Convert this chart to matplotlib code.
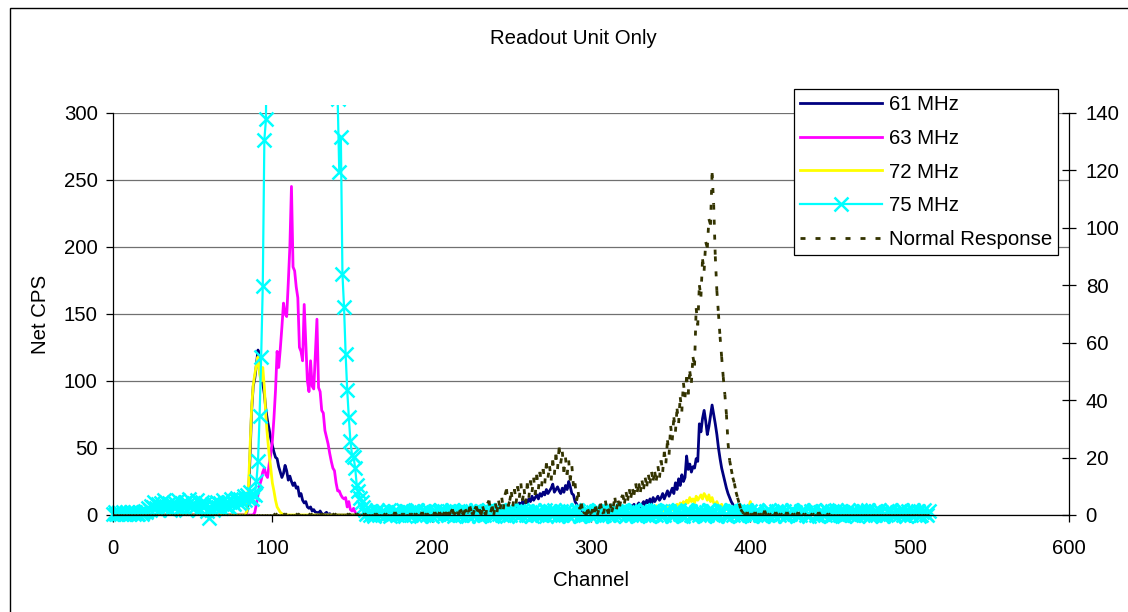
import numpy as np
import matplotlib
matplotlib.use('Agg')
import matplotlib.pyplot as plt
from matplotlib.collections import LineCollection
from matplotlib.lines import Line2D
from matplotlib.patches import Rectangle

plt.rcParams['font.family'] = ['Liberation Sans', 'DejaVu Sans']
FS = 14.7

channels = np.arange(0, 513)

# ---- data (Net CPS, left axis) ----
mhz61_a_start = 84
mhz61_a = [2, 10, 45, 78, 96, 102, 112, 123, 116, 108, 98, 90, 78, 70, 64, 57, 52, 47, 43, 42,
           36, 32, 28, 31, 37, 33, 26, 29, 25, 22, 24, 20, 21, 14, 16, 11, 9, 10, 6, 5,
           6, 3, 4, 2, 2, 1, 3, 1, 0, 1, 2, 0, 1, 0]
mhz61_b_start = 240
mhz61_b = [0, 1, 0, 1, 2, 1, 3, 2, 4, 3,
           5, 4, 6, 8, 5, 9, 7, 10, 8, 11,
           9, 12, 10, 14, 11, 13, 15, 12, 16, 14,
           17, 15, 19, 16, 18, 20, 23, 17, 19, 21,
           18, 16, 20, 17, 22, 19, 25, 21, 16, 15,
           10, 8, 5, 4, 3, 2, 3, 1, 2, 1,
           0, 1, 0, 2, 1, 0, 1, 0, 1, 0,
           1, 0, 2, 1, 3, 2, 1, 3, 2, 4,
           3, 5, 4, 6, 5, 7, 6, 8, 5, 7,
           9, 6, 8, 10, 7, 11, 9, 12, 8, 13,
           10, 12, 14, 11, 13, 16, 12, 15, 18, 14,
           17, 20, 16, 24, 19, 27, 22, 30, 25, 28,
           44, 34, 38, 32, 36, 35, 42, 40, 68, 62,
           72, 78, 70, 60, 66, 74, 82, 75, 68, 60,
           50, 42, 35, 30, 25, 20, 16, 13, 10, 8,
           5, 3, 2, 1, 0]

mhz63_start = 89
mhz63 = [2, 8, 15, 22, 26, 32, 35, 30, 28, 38, 45, 55, 72, 93, 122, 110, 124, 140, 158, 150,
         148, 173, 200, 245, 185, 182, 170, 162, 125, 122, 115, 157, 128, 100, 92, 115, 96, 94, 120, 146,
         95, 92, 78, 76, 63, 58, 53, 46, 40, 35, 33, 24, 18, 18, 15, 13, 12, 13, 6, 10,
         4, 3, 5, 2, 0]

mhz72_a_start = 84
mhz72_a = [3, 20, 50, 80, 97, 105, 112, 118, 105, 100, 110, 95, 72, 58, 45, 35, 24, 18, 11, 6,
           4, 2, 1, 0]
mhz72_b_start = 330
mhz72_b = [1, 2, 1, 3, 2, 4, 3, 5, 4, 6,
           5, 7, 4, 6, 5, 3, 6, 4, 7, 5,
           6, 4, 7, 5, 8, 6, 9, 7, 10, 8,
           11, 9, 13, 10, 12, 9, 14, 11, 13, 15,
           12, 16, 14, 11, 15, 10, 13, 9, 8, 10,
           7, 6, 8, 5, 6, 4, 5, 3, 4, 6,
           3, 5, 2, 4, 6, 3, 5, 2, 4, 6,
           10, 4, 2, 0]

# 75 MHz: baseline left, the big peak (goes off scale), baseline right
mhz75_left = [1, 2, 1, 1, 2, 1, 2, 1, 1, 2, 1, 2, 2, 1, 2, 1, 1, 2, 1, 2,
              3, 2, 5, 4, 7, 6, 10, 5, 8, 4, 9, 6, 11, 7, 5, 9, 4, 8, 10, 6,
              7, 11, 5, 9, 6, 10, 4, 8, 12, 6, 9, 5, 7, 11, 4, 8, 10, 6, 9, 3,
              -2, 5, 8, 4, 7, 10, 6, 9, 5, 11, 8, 7, 10, 6, 12, 9, 8, 11, 13, 9,
              12, 10, 14, 11, 15, 13, 17, 12, 16]
mhz75_peak_start = 89
mhz75_peak = [15, 25, 40, 74, 118, 171, 280, 295,
              480, 760, 1020, 1250, 1430, 1580, 1690, 1780, 1850, 1900,
              1930, 1950, 1940, 1910, 1870, 1820, 1760, 1700, 1640, 1570,
              1500, 1430, 1370, 1310, 1250, 1190, 1130, 1070, 1010, 950,
              890, 830, 770, 710, 660, 610, 560, 520, 480, 440, 410, 380, 350, 330, 310,
              256, 282, 180, 155, 120, 93, 73, 55, 45, 43, 35, 22, 18, 13, 10, 6, 4]
mhz75_right_start = 159
# one digit per channel, digit - 1 = Net CPS
mhz75_right = ("23142035124312502341321504231423510243152034123514"
               "31425032141352043125304214352013425132041532140253"
               "14230521431250342153024135204312540213542031425301"
               "42135024312540231452031425130425134021534201435210"
               "35241023514203152431025341203514230412531402354120"
               "24153204315240132543021453120435120342153041253142"
               "035214130252413502314253021435201342513042153240135214")

# Normal Response (right axis)
normal_head_start = 100
normal_head = [0, 0, 0.5, 0, 0, 0, 0, 0, 0.5, 0, 0, 0, 0, 0, 0, 0, 0.5, 0, 0, 0,
               0, 0, 0, 0, 0.5, 0, 0, 0, 0, 0, 0, 0.5, 0, 0, 0, 0, 0, 0, 0, 0.5,
               0, 0, 0, 0, 0, 0, 0, 0, 0.5, 0,
               0, 0, 0, 0.5, 0, 0, 0, 0, 0.5, 0, 0, 0, 0, 0, 0, 0.5, 0, 0, 0, 0,
               0, 0.5, 0, 0, 0, 0, 0, 1, 0, 0, 0, 0, 0.5, 0, 0, 0, 0, 0.5, 0, 0,
               0.5, 0, 0, 0, 1, 0, 0, 0.5, 0, 0]
normal_main_start = 200
normal_main = [0, 0, 1, 0, 0, 1, 0, 0, 1, 0,
               1, 0, 1, 2, 0, 1, 1, 0, 2, 1,
               0, 2, 1, 1, 3, 1, 0, 2, 3, 1,
               2, 0, 3, 1, 0, 4, 5, 1, 3, 0,
               4, 1, 5, 2, 6, 2, 7, 9, 3, 5,
               8, 3, 9, 4, 10, 6, 11, 5, 9, 4,
               11, 6, 12, 8, 13, 7, 14, 9, 15, 10,
               16, 11, 18, 13, 17, 12, 19, 14, 21, 16,
               23.5, 18, 22, 15, 20, 14, 19, 12, 17, 10,
               11, 5, 8, 2, 4, 0.5, 1, 0, 2, 0.5,
               0.5, 2, 1, 3, 0, 2, 4, 1, 0.5, 5,
               2, 0.5, 4, 1, 3, 6, 2, 5, 3, 6,
               7, 4, 8, 5, 9, 6, 9, 7, 11, 8,
               11, 8, 12, 9, 13, 10, 14, 11, 15, 12,
               15, 12, 17, 13, 19, 15, 22, 18, 26, 21,
               31, 26, 34, 29, 37, 32, 41, 36, 46, 41,
               48, 42, 50, 46, 55, 52, 72, 66, 80, 76,
               89, 85, 95, 93, 103, 101, 119, 108, 90, 78,
               70, 62, 55, 48, 42, 35, 25, 19, 16, 13,
               11, 8, 6, 4, 2, 1, 0.5, 0, 1, 0]
normal_tail_start = 400
normal_tail = [0, 0.5, 0, 1, 0, 0, 0.5, 0, 0, 1.5, 0, 0, 0.5, 0, 0, 0, 1, 0, 0, 0.5,
               0, 0, 0, 1, 0, 0, 0, 0.5, 0, 0, 1, 0, 0, 0, 0.5, 0, 0, 0, 0, 0.5,
               0, 0, 0, 1, 0, 0, 0, 0, 0, 0.5, 0]


def build(*parts):
    y = np.zeros(len(channels))
    for start, vals in parts:
        y[start:start + len(vals)] = vals
    return y


s61 = build((mhz61_a_start, mhz61_a), (mhz61_b_start, mhz61_b))
s63 = build((mhz63_start, mhz63))
s72 = build((mhz72_a_start, mhz72_a), (mhz72_b_start, mhz72_b))
s75 = build((0, mhz75_left), (mhz75_peak_start, mhz75_peak),
            (mhz75_right_start, [int(c) - 1 for c in mhz75_right][:513 - mhz75_right_start]))
snr = build((normal_head_start, normal_head), (normal_main_start, normal_main),
            (normal_tail_start, normal_tail))

# ---- figure ----
fig = plt.figure(figsize=(11.28, 6.12), dpi=100)
ax = fig.add_axes([113 / 1128, 1 - 515 / 612, 956 / 1128, 402.3 / 612])
ax2 = ax.twinx()

ax.plot(channels, s61, color='#000080', lw=2, label='61 MHz')
ax.plot(channels, s63, color='#FF00FF', lw=2, label='63 MHz')
ax.plot(channels, s72, color='#FFFF00', lw=2, label='72 MHz')
l75, = ax.plot(channels, s75, color='#00FFFF', lw=1.6, marker='x', ms=10, mew=1.8,
               label='75 MHz')
clip = Rectangle((-0.012, -0.05), 1.03, 1.07, transform=ax.transAxes)
l75.set_clip_path(clip)

pts = np.column_stack([channels, snr])
segs = np.stack([pts[:-1], pts[1:]], axis=1)
dash = (0, (1.8, 3.6))
lc = LineCollection(segs, colors='#333300', linewidths=2, linestyles=[dash])
ax2.add_collection(lc)

ax.set_xlim(0, 600)
ax.set_ylim(0, 300)
ax2.set_ylim(0, 140)
ax.set_xticks(range(0, 601, 100))
ax.set_yticks(range(0, 301, 50))
ax2.set_yticks(range(0, 141, 20))

ax.yaxis.grid(True, color='#707070', lw=0.9)
ax.set_axisbelow(True)

for sp in ['top', 'right']:
    ax.spines[sp].set_visible(False)
for sp in ['top', 'left', 'bottom']:
    ax2.spines[sp].set_visible(False)
for sp in ax.spines.values():
    sp.set_linewidth(0.9)
ax2.spines['right'].set_linewidth(0.9)

ax.tick_params(axis='x', direction='out', length=5, width=0.9, pad=12.5, labelsize=FS)
ax.tick_params(axis='y', direction='out', length=5, width=0.9, pad=6, labelsize=FS)
ax2.tick_params(axis='y', direction='inout', length=10, width=0.9, pad=7, labelsize=FS)

fig.text(573 / 1128, 1 - 38 / 612, 'Readout Unit Only', ha='center', va='center', fontsize=FS)
fig.text(591 / 1128, 1 - 580 / 612, 'Channel', ha='center', va='center', fontsize=FS)
fig.text(40 / 1128, 1 - 314 / 612, 'Net CPS', ha='center', va='center', rotation=90, fontsize=FS)

handles = ax.get_legend_handles_labels()[0]
handles.append(Line2D([], [], color='#333300', lw=2, linestyle=dash))
labels = ['61 MHz', '63 MHz', '72 MHz', '75 MHz', 'Normal Response']
leg = ax2.legend(handles, labels, loc='upper left', bbox_to_anchor=(794 / 1128, 1 - 89 / 612),
                 bbox_transform=fig.transFigure, fontsize=FS, frameon=True, fancybox=False,
                 framealpha=1, edgecolor='black', borderaxespad=0, borderpad=0.3,
                 labelspacing=0.72, handlelength=4.0, handletextpad=0.35, numpoints=1)
leg.get_frame().set_linewidth(0.9)

fig.patches.append(Rectangle((10 / 1128, -0.1), 1.2, 1.1 - 8 / 612, transform=fig.transFigure,
                             fill=False, edgecolor='black', lw=1))

fig.savefig('out.png', dpi=100)
